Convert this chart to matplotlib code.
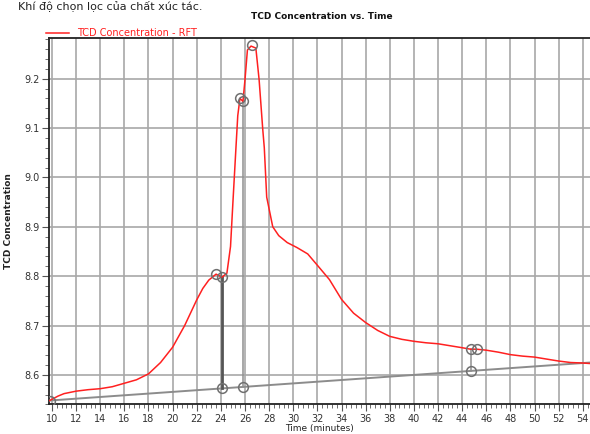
import matplotlib
matplotlib.use("Agg")
import matplotlib.pyplot as plt
from matplotlib.ticker import MultipleLocator

# TCD signal (time in minutes, concentration)
time_min = [9.8, 10.5, 11, 12, 13, 14, 15, 16, 17, 18, 19, 20, 21, 22, 22.5, 23,
            23.6, 24.1, 24.5, 24.8, 25.0, 25.25, 25.4, 25.58, 25.83, 26.0, 26.2,
            26.5, 26.9, 27.17, 27.47, 27.6, 27.8, 28.3, 28.8, 29.5, 30.3, 31.2,
            32.0, 33.0, 34.0, 35.0, 36.0, 37, 38, 39, 40, 41, 42, 43, 44, 44.7,
            45.2, 46, 47, 48, 49, 50, 51, 52, 53, 54, 54.6]
tcd_conc = [8.548, 8.557, 8.562, 8.567, 8.570, 8.572, 8.576, 8.583, 8.590, 8.602,
            8.625, 8.656, 8.700, 8.752, 8.775, 8.792, 8.804, 8.798, 8.806, 8.860,
            8.950, 9.060, 9.125, 9.160, 9.154, 9.198, 9.258, 9.266, 9.262, 9.198,
            9.098, 9.060, 8.960, 8.900, 8.882, 8.868, 8.858, 8.845, 8.822, 8.793,
            8.753, 8.725, 8.706, 8.690, 8.678, 8.672, 8.668, 8.665, 8.663, 8.659,
            8.655, 8.652, 8.652, 8.650, 8.646, 8.641, 8.638, 8.636, 8.632, 8.628,
            8.625, 8.624, 8.623]

# baseline and integration markers
base_x = [9.8, 54.6]
base_y = [8.548, 8.625]
peak_marks_x = [9.8, 23.6, 24.1, 25.58, 25.83, 26.55, 44.7, 45.2]
peak_marks_y = [8.548, 8.804, 8.798, 9.160, 9.154, 9.268, 8.652, 8.652]
drop_x = [24.1, 25.83, 44.7]
drop_top = [8.798, 9.154, 8.652]
drop_bottom = [8.573, 8.575, 8.608]

fig = plt.figure(figsize=(5.9, 4.34), dpi=100)
ax = fig.add_axes([0.083, 0.068, 0.917, 0.844])

ax.grid(True, which="major", color="#a8a8a8", linewidth=1.2)
ax.set_axisbelow(True)

ax.plot(base_x, base_y, color="#8c8c8c", linewidth=1.4, zorder=3)
for i, (x, y0, y1) in enumerate(zip(drop_x, drop_bottom, drop_top)):
    ax.plot([x, x], [y0, y1], color="#555555" if i == 0 else "#8f8f8f",
            linewidth=2.0 if i == 0 else 1.1, zorder=3)
ax.plot(time_min, tcd_conc, color="#ff2020", linewidth=1.1, zorder=4,
        label="TCD Concentration - RFT")
ax.plot(peak_marks_x + drop_x, peak_marks_y + drop_bottom, linestyle="none",
        marker="o", markersize=7, markerfacecolor="none",
        markeredgecolor="#707070", markeredgewidth=1.1, zorder=5)

ax.set_xlim(9.75, 54.6)
ax.set_ylim(8.54, 9.282)
ax.xaxis.set_major_locator(MultipleLocator(2))
ax.xaxis.set_minor_locator(MultipleLocator(0.4))
ax.yaxis.set_minor_locator(MultipleLocator(0.02))
ax.set_yticks([8.6, 8.7, 8.8, 8.9, 9.0, 9.1, 9.2])
ax.set_yticklabels(["8.6", "8.7", "8.8", "8.9", "9.0", "9.1", "9.2"])
ax.tick_params(axis="both", which="major", labelsize=7, labelcolor="#333333",
               length=5, width=0.8, color="#555555", pad=1.5)
ax.tick_params(axis="both", which="minor", length=3, width=0.6, color="#555555")

for s in ["left", "top", "bottom"]:
    ax.spines[s].set_color("#222222")
    ax.spines[s].set_linewidth(1.3)
ax.spines["right"].set_visible(False)

ax.set_xlabel("Time (minutes)", fontsize=6.5, color="#222222", labelpad=0)
ax.set_ylabel("TCD Concentration", fontsize=6.5, fontweight="bold",
              color="#222222", labelpad=8)

fig.text(0.545, 0.962, "TCD Concentration vs. Time", ha="center", va="center",
         fontsize=6.5, fontweight="bold", color="#111111")
leg = ax.legend(loc="lower left", bbox_to_anchor=(-0.01, 0.995), frameon=False,
                fontsize=7, handlelength=2.4, borderaxespad=0, borderpad=0.2)
for t in leg.get_texts():
    t.set_color("#ff2020")

fig.text(0.03, 0.999, "Khí độ chọn lọc của chất xúc tác.", ha="left", va="top",
         fontsize=8, color="#222222")

fig.savefig("out.png", dpi=100)
